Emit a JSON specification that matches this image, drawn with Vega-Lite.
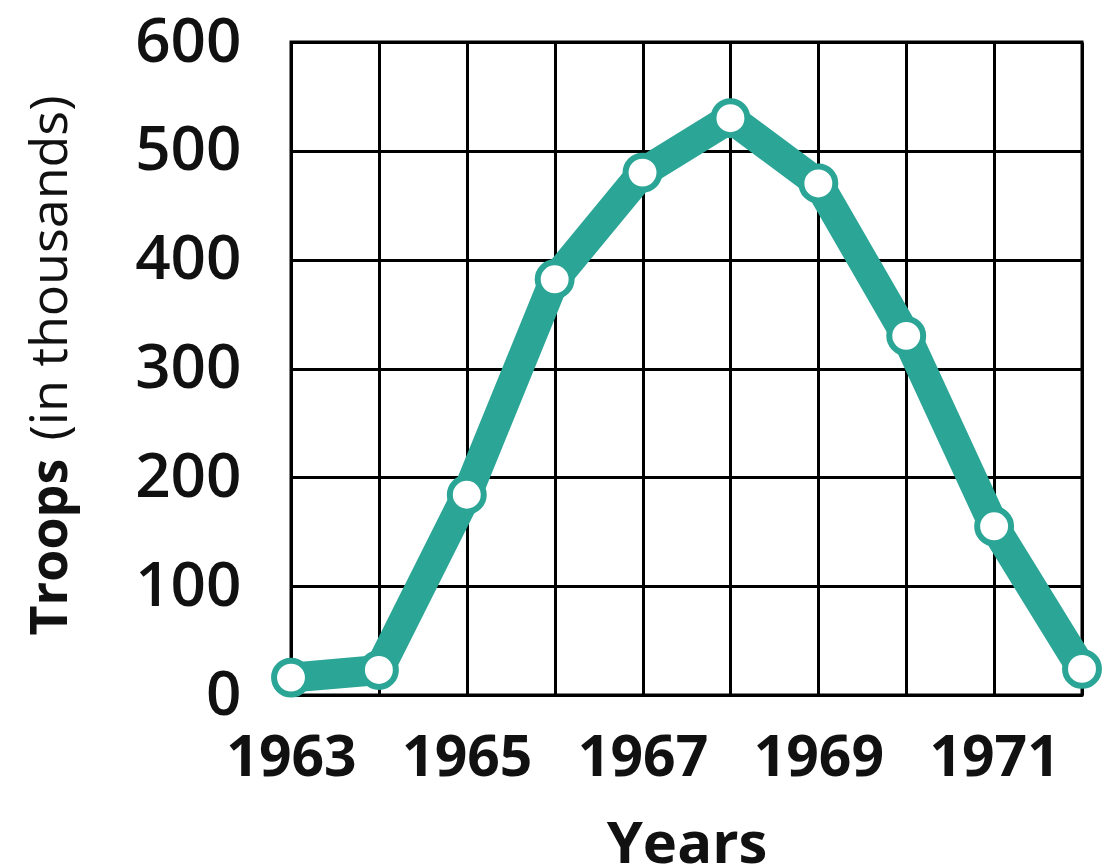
{
  "$schema": "https://vega.github.io/schema/vega-lite/v6.json",
  "width": 791,
  "height": 653,
  "autosize": {"type": "none"},
  "padding": {"left": 291, "top": 42, "right": 27, "bottom": 172},
  "background": "white",
  "config": {
    "view": {"stroke": "black", "strokeWidth": 3},
    "font": "Open Sans"
  },
  "data": {
    "values": [
      {"year": 1963, "troops": 16},
      {"year": 1964, "troops": 23},
      {"year": 1965, "troops": 184},
      {"year": 1966, "troops": 382},
      {"year": 1967, "troops": 480},
      {"year": 1968, "troops": 530},
      {"year": 1969, "troops": 470},
      {"year": 1970, "troops": 330},
      {"year": 1971, "troops": 155},
      {"year": 1972, "troops": 24}
    ]
  },
  "resolve": {"axis": {"y": "independent"}},
  "layer": [
    {
      "mark": {"type": "line", "color": "#2aa596", "strokeWidth": 30, "strokeJoin": "round", "strokeCap": "round", "clip": false},
      "encoding": {
        "x": {
          "field": "year", "type": "quantitative",
          "scale": {"domain": [1963, 1972], "nice": false, "zero": false},
          "axis": {
            "values": [1963, 1964, 1965, 1966, 1967, 1968, 1969, 1970, 1971, 1972],
            "format": "d",
            "labelExpr": "datum.value % 2 == 1 ? datum.label : ''",
            "grid": true, "gridColor": "black", "gridWidth": 3, "gridOpacity": 1,
            "ticks": false,
            "domainColor": "black", "domainWidth": 3,
            "labelFontSize": 57, "labelFontWeight": "bold", "labelColor": "#111",
            "labelPadding": 35, "labelFlush": false, "labelOverlap": false,
            "title": "Years", "titleFontSize": 58, "titleFontWeight": "bold", "titleColor": "#111",
            "titleBaseline": "top", "titleY": 121
          }
        },
        "y": {
          "field": "troops", "type": "quantitative",
          "scale": {"domain": [0, 600], "nice": false},
          "axis": {
            "values": [0, 100, 200, 300, 400, 500, 600],
            "grid": true, "gridColor": "black", "gridWidth": 3, "gridOpacity": 1,
            "ticks": false,
            "domainColor": "black", "domainWidth": 3,
            "labelFontSize": 62, "labelFontWeight": 600, "labelColor": "#111",
            "labelPadding": 50, "labelFlush": false, "labelOverlap": false,
            "title": "Troops", "titleFontSize": 52, "titleFontWeight": "bold", "titleColor": "#111",
            "titleAngle": -90, "titleAlign": "left", "titleBaseline": "middle",
            "titleX": -241, "titleY": 593
          }
        }
      }
    },
    {
      "mark": {"type": "point", "filled": true, "fill": "white", "stroke": "#2aa596", "strokeWidth": 6, "size": 1150, "shape": "circle", "opacity": 1, "clip": false},
      "encoding": {
        "x": {"field": "year", "type": "quantitative"},
        "y": {
          "field": "troops", "type": "quantitative",
          "axis": {
            "orient": "left",
            "labels": false, "ticks": false, "domain": false, "grid": false,
            "title": "(in thousands)", "titleFontSize": 52, "titleFontWeight": "normal", "titleColor": "#111",
            "titleAngle": -90, "titleAlign": "right", "titleBaseline": "middle",
            "titleX": -241, "titleY": 53
          }
        }
      }
    }
  ]
}
